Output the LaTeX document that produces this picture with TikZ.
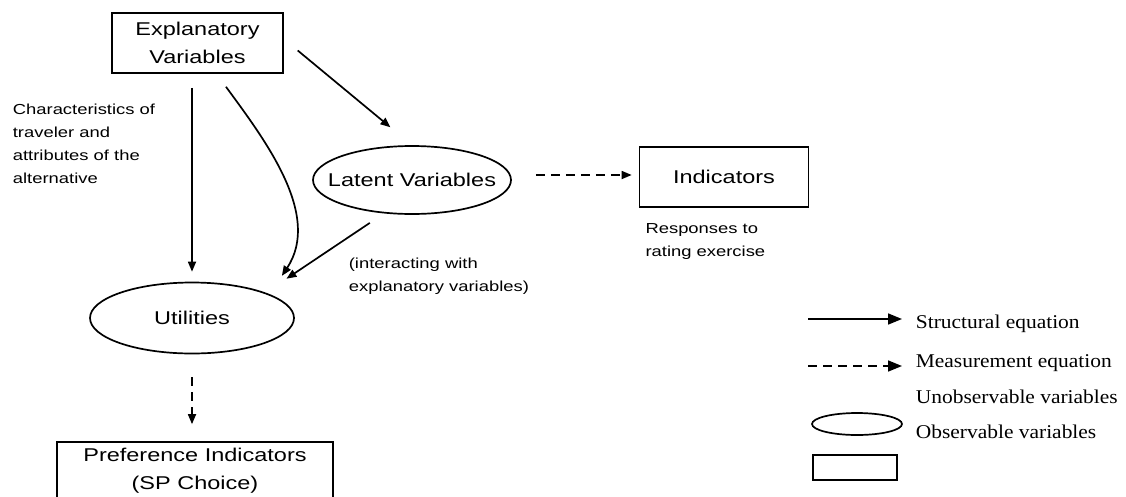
\documentclass[tikz,border=0pt]{standalone}
\usepackage{fontspec}
\setmainfont{Liberation Sans}[FakeStretch=1.27]
\newfontfamily\legendfont{Liberation Serif}[FakeStretch=1.1]
\usetikzlibrary{arrows.meta,positioning,shapes.geometric}

\begin{document}
\begin{tikzpicture}[x=1pt,y=-1pt,line width=1.7pt,
    >={Triangle[length=10pt,width=8pt]},
    varbox/.style={draw,rectangle,inner sep=0pt,align=center,font=\fontsize{18.5}{28}\selectfont},
    latent/.style={draw,ellipse,inner sep=0pt,font=\fontsize{18.5}{28}\selectfont},
    note/.style={inner sep=0pt,align=left,anchor=north west,font=\fontsize{14.5}{23}\selectfont},
    key/.style={inner sep=0pt,anchor=west,font=\legendfont\fontsize{19.5}{23}\selectfont},
    keytip/.style={-{Triangle[length=14pt,width=11pt]}},
    dashes/.style={dash pattern=on 9pt off 6pt}]
  \useasboundingbox (0,0) rectangle (1126,496);
  % model
  \node[varbox,minimum width=171pt,minimum height=60pt] (expl) at (197.5,43) {Explanatory\\Variables};
  \node[latent,inner xsep=-15pt,minimum width=198pt,minimum height=68pt] (lat) at (412,180) {Latent Variables};
  \node[varbox,minimum width=169pt,minimum height=60pt] (ind) at (724,177) {Indicators};
  \node[latent,minimum width=204pt,minimum height=71pt] (util) at (192,318) {Utilities};
  \node[varbox,minimum width=276pt,minimum height=58pt] (pref) at (195,471) {Preference Indicators\\(SP Choice)};

  \node[note] (char) at (12,103) {Characteristics of\\traveler and\\attributes of the\\alternative};
  \node[note,below=15pt of ind.south west,anchor=north west,xshift=6pt] (resp) {Responses to\\rating exercise};
  \node[note] (inter) at (348,257) {(interacting with\\explanatory variables)};

  \path[->]
    (expl.south -| util.north) edge[shorten <=14pt,shorten >=10pt] (util.north)
    ([yshift=4pt]expl.east) edge[shorten <=18pt,shorten >=28pt] (lat.north)
    (lat.230) edge[shorten <=17pt,shorten >=25pt] (util.19)
    ([yshift=5pt]lat.east) edge[dashes,shorten <=24pt,shorten >=7pt] ([yshift=5pt]lat.east -| ind.west)
    (util.south) edge[dashes,shorten <=23pt,shorten >=17pt] (util.south |- pref.north);
  \draw[->,shorten <=16pt,shorten >=22pt] ([xshift=19pt]expl.south) .. controls (265,140) and (322,215) .. (util.17);

  % legend
  \node[key] (kstr) at (915,324) {Structural equation};
  \node[key] (kmea) at (915,363) {Measurement equation};
  \node[key] (kuno) at (915,397) {Unobservable variables};
  \node[key] (kobs) at (915,432) {Observable variables};
  \node[draw,ellipse,minimum width=90pt,minimum height=22pt,inner sep=0pt] (kell) at (857,424) {};
  \node[draw,rectangle,minimum width=84pt,minimum height=25pt,inner sep=0pt] (krect) at (855,467.5) {};
  \draw[keytip] ([xshift=-107pt,yshift=5pt]kstr.west) -- ([xshift=-13pt,yshift=5pt]kstr.west);
  \draw[keytip,dashes] ([xshift=-107pt,yshift=-3pt]kmea.west) -- ([xshift=-13pt,yshift=-3pt]kmea.west);
\end{tikzpicture}
\end{document}
